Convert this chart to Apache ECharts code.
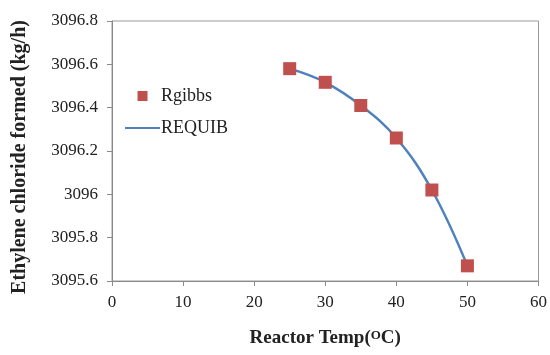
<!DOCTYPE html>
<html>
<head>
<meta charset="utf-8">
<script src="https://cdn.jsdelivr.net/npm/echarts@6/dist/echarts.min.js"></script>
<style>
  html, body { margin: 0; padding: 0; background: #fff; }
  #main { width: 550px; height: 355px; }
</style>
</head>
<body>
<div id="main"></div>
<script>
// 数据
var temps = [25, 30, 35, 40, 45, 50];
var rgibbs = [3096.58, 3096.517, 3096.41, 3096.26, 3096.02, 3095.67];
var requib = [3096.58, 3096.517, 3096.41, 3096.26, 3096.02, 3095.67];

var serif = '"Liberation Serif", "DejaVu Serif", serif';
var myChart = echarts.init(document.getElementById('main'));

function pairs(xs, ys) {
    return xs.map(function (x, i) { return [x, ys[i]]; });
}

option = {
    animation: false,
    textStyle: { fontFamily: serif },
    grid: {
        left: 112,
        right: 9,
        top: 21,
        bottom: 74,
        show: true,
        borderColor: '#9a9a9a',
        borderWidth: 1
    },
    legend: {
        orient: 'vertical',
        left: 119,
        top: 82,
        itemWidth: 35,
        itemHeight: 10,
        itemGap: 14,
        symbolKeepAspect: true,
        textStyle: { fontFamily: serif, fontSize: 18, color: '#222', padding: [0, 0, 0, -4] },
        data: [
            { name: 'Rgibbs', icon: 'path://M0,0h10v10h-10z' },
            { name: 'REQUIB', itemStyle: { opacity: 0 } }
        ]
    },
    xAxis: {
        type: 'value',
        min: 0,
        max: 60,
        interval: 10,
        name: 'Reactor Temp({s|O}C)',
        nameLocation: 'middle',
        nameGap: 48,
        nameTextStyle: {
            fontFamily: serif, fontSize: 19, fontWeight: 'bold', color: '#222',
            rich: { s: { fontFamily: serif, fontSize: 13, fontWeight: 'bold', color: '#222', verticalAlign: 'top', padding: [0, 0, 6, 0] } }
        },
        axisLine: { lineStyle: { color: '#8a8a8a' } },
        axisTick: { show: true, inside: false, length: 5, lineStyle: { color: '#8a8a8a' } },
        axisLabel: { fontFamily: serif, fontSize: 17, color: '#222', margin: 13 },
        splitLine: { show: false }
    },
    yAxis: {
        type: 'value',
        min: 3095.6,
        max: 3096.8,
        interval: 0.2,
        name: 'Ethylene chloride formed (kg/h)',
        nameLocation: 'middle',
        nameGap: 82,
        nameTextStyle: { fontFamily: serif, fontSize: 20, fontWeight: 'bold', color: '#222', padding: [0, 12, 0, 0] },
        axisLine: { show: true, lineStyle: { color: '#8a8a8a' } },
        axisTick: { show: true, inside: false, length: 5, lineStyle: { color: '#8a8a8a' } },
        axisLabel: {
            fontFamily: serif, fontSize: 17, color: '#222', margin: 14,
            formatter: function (v) { return String(+v.toFixed(1)); }
        },
        splitLine: { show: false }
    },
    series: [
        {
            name: 'REQUIB',
            type: 'line',
            smooth: 0.4,
            symbol: 'none',
            data: pairs(temps, requib),
            lineStyle: { color: '#4f81bd', width: 2.5 },
            itemStyle: { color: '#4f81bd' },
            z: 2
        },
        {
            name: 'Rgibbs',
            type: 'scatter',
            symbol: 'rect',
            symbolSize: 13,
            data: pairs(temps, rgibbs),
            itemStyle: { color: '#c0504d', opacity: 1 },
            z: 3
        }
    ]
};

myChart.setOption(option);
</script>
</body>
</html>
